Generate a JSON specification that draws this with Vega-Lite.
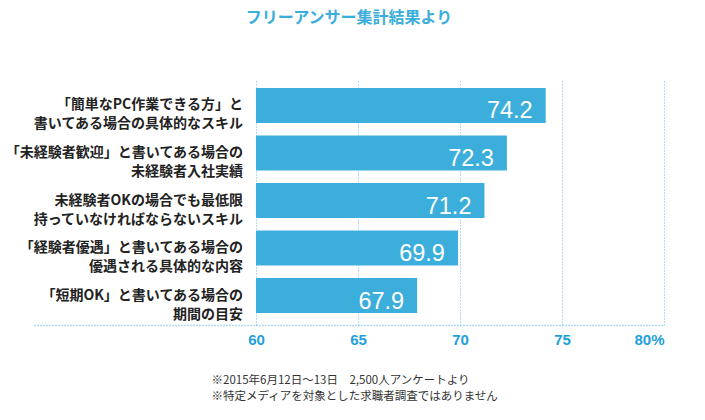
{
  "$schema": "https://vega.github.io/schema/vega-lite/v6.json",
  "width": 630,
  "height": 245,
  "autosize": "none",
  "padding": {"left": 34, "top": 80, "right": 41, "bottom": 95},
  "background": "white",
  "config": {"view": {"stroke": null}, "font": "Noto Sans CJK JP"},
  "title": {
    "text": "フリーアンサー集計結果より",
    "font": "Noto Sans CJK JP",
    "fontSize": 16,
    "fontWeight": "bold",
    "color": "#3aaedb",
    "anchor": "middle",
    "offset": 54
  },
  "data": {
    "values": [
      {"label": "「簡単なPC作業できる方」と\n書いてある場合の具体的なスキル", "value": 74.2},
      {"label": "「未経験者歓迎」と書いてある場合の\n未経験者入社実績", "value": 72.3},
      {"label": "未経験者OKの場合でも最低限\n持っていなければならないスキル", "value": 71.2},
      {"label": "「経験者優遇」と書いてある場合の\n優遇される具体的な内容", "value": 69.9},
      {"label": "「短期OK」と書いてある場合の\n期間の目安", "value": 67.9}
    ]
  },
  "encoding": {
    "y": {
      "field": "label",
      "type": "nominal",
      "sort": null,
      "axis": null,
      "scale": {"paddingInner": 0.263, "paddingOuter": 0.21, "align": 0.4}
    }
  },
  "layer": [
    {
      "mark": {"type": "bar", "color": "#3caedb", "cornerRadius": 0},
      "encoding": {
        "x": {
          "field": "value",
          "type": "quantitative",
          "scale": {"domain": [49.12, 80], "nice": false, "zero": false},
          "axis": {
            "values": [60, 65, 70, 75, 80],
            "labelExpr": "datum.value == 80 ? '80%' : datum.label",
            "labelFont": "Liberation Sans",
            "labelFontSize": 15,
            "labelFontWeight": "bold",
            "labelColor": "#22a0dc",
            "labelPadding": 7,
            "ticks": false,
            "grid": true,
            "gridColor": "#5bbde6",
            "gridDash": [1, 2],
            "gridWidth": 1,
            "domainColor": "#5bbde6",
            "domainDash": [1, 2],
            "domainWidth": 1.5,
            "title": ["※2015年6月12日〜13日　2,500人アンケートより", "※特定メディアを対象とした求職者調査ではありません"],
            "titleFont": "Noto Sans CJK JP",
            "titleFontSize": 11.5,
            "titleFontWeight": "normal",
            "titleColor": "#333333",
            "titleAnchor": "start",
            "titleAlign": "left",
            "titleBaseline": "top",
            "titleX": 177,
            "titleY": 49,
            "titleLineHeight": 16.5
          }
        },
        "x2": {"datum": 60}
      }
    },
    {
      "mark": {
        "type": "text",
        "align": "right",
        "baseline": "middle",
        "dx": -13,
        "dy": 6,
        "font": "Liberation Sans",
        "fontSize": 23.5,
        "color": "white"
      },
      "encoding": {
        "x": {"field": "value", "type": "quantitative"},
        "text": {"field": "value", "type": "quantitative", "format": ".1f"}
      }
    },
    {
      "mark": {
        "type": "text",
        "align": "right",
        "baseline": "middle",
        "dx": -13,
        "lineBreak": "\n",
        "lineHeight": 19,
        "font": "Noto Sans CJK JP",
        "fontSize": 14,
        "fontWeight": "bold",
        "color": "#222222"
      },
      "encoding": {
        "x": {"datum": 60, "type": "quantitative"},
        "text": {"field": "label"}
      }
    }
  ]
}
